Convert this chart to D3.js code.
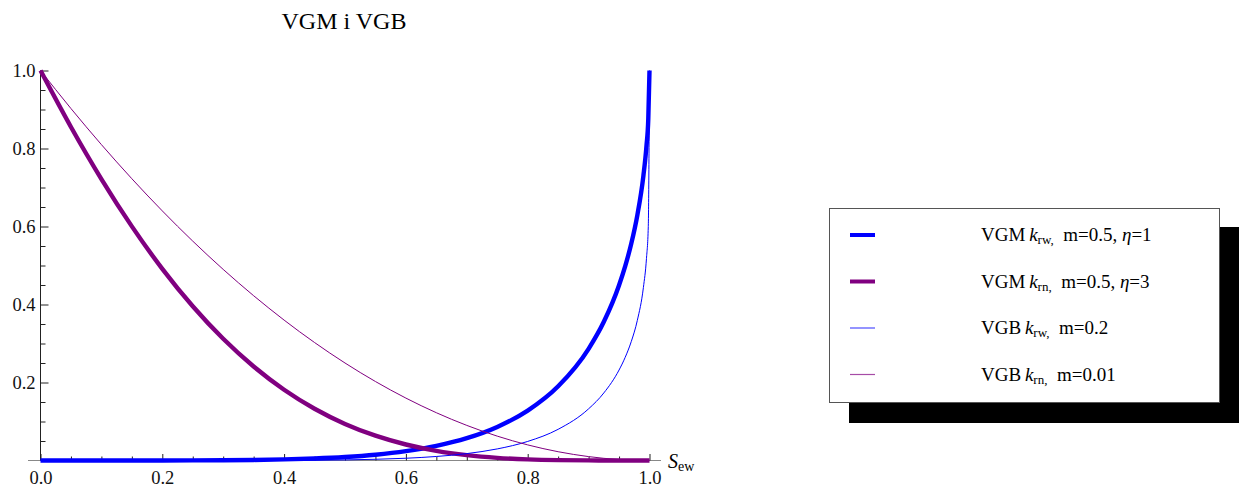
<!DOCTYPE html>
<html>
<head>
<meta charset="utf-8">
<script src="https://cdn.jsdelivr.net/npm/d3@7"></script>
<style>
  html, body { margin: 0; padding: 0; background: #fff; }
  svg { display: block; font-family: "Liberation Serif", "Times New Roman", serif; }
  text { white-space: pre; }
</style>
</head>
<body>
<div id="chart"></div>
<script>
// VGM i VGB — relative permeability curves vs effective saturation.

// Saturation samples (denser near 1 where the kr_w curves shoot up).
const SAT = [0, 0.05, 0.1, 0.15, 0.2, 0.25, 0.3, 0.35, 0.4, 0.45, 0.5, 0.55, 0.6,
  0.65, 0.7, 0.75, 0.8, 0.85, 0.9, 0.925, 0.95, 0.96, 0.97, 0.98, 0.99, 0.995, 0.998, 1];

// Values at each SAT point.
const VGM_KRW = [0, 0, 0, 0.00002, 0.0001, 0.00025, 0.00064, 0.0014, 0.0028, 0.0052,
  0.009, 0.0149, 0.024, 0.0375, 0.0572, 0.086, 0.128, 0.1903, 0.2864, 0.3556, 0.4494,
  0.4977, 0.5557, 0.6288, 0.7304, 0.8062, 0.8758, 1];
const VGM_KRN = [1, 0.8552, 0.7217, 0.6003, 0.4915, 0.3955, 0.3121, 0.241, 0.1814,
  0.1327, 0.0938, 0.0636, 0.041, 0.0248, 0.0138, 0.0068, 0.0029, 0.0009, 0.0002,
  0.0001, 0, 0, 0, 0, 0, 0, 0, 0];
const VGB_KRW = [0, 0, 0, 0, 0, 0, 0.00004, 0.00012, 0.00033, 0.00075, 0.0016, 0.0031,
  0.0058, 0.0103, 0.0177, 0.0297, 0.0489, 0.08, 0.1325, 0.1732, 0.232, 0.2642,
  0.3047, 0.3592, 0.4439, 0.5176, 0.5998, 1];
const VGB_KRN = [1, 0.9025, 0.81, 0.7225, 0.64, 0.5625, 0.49, 0.4225, 0.36, 0.3025,
  0.25, 0.2025, 0.16, 0.1225, 0.09, 0.0625, 0.04, 0.0225, 0.01, 0.0056, 0.0025,
  0.0016, 0.0009, 0.0004, 0.0001, 0, 0, 0];

const X_TICKS = [0, 0.2, 0.4, 0.6, 0.8, 1.0];
const Y_TICKS = [0.2, 0.4, 0.6, 0.8, 1.0];
const MINOR_TICKS = [0.05, 0.1, 0.15, 0.25, 0.3, 0.35, 0.45, 0.5, 0.55, 0.65, 0.7,
  0.75, 0.85, 0.9, 0.95];

const SERIES = [
  { name: "VGM", sub: "rw,", rest: "m=0.5, ", eta: "=1", values: VGM_KRW, color: "#0000ff", width: 4.4 },
  { name: "VGM", sub: "rn,", rest: "m=0.5, ", eta: "=3", values: VGM_KRN, color: "#800080", width: 4.4 },
  { name: "VGB", sub: "rw,", rest: "m=0.2", eta: null, values: VGB_KRW, color: "#0000ff", width: 1 },
  { name: "VGB", sub: "rn,", rest: "m=0.01", eta: null, values: VGB_KRN, color: "#800080", width: 1 },
];

const width = 1245;
const height = 491;

const x = d3.scaleLinear().domain([0, 1]).range([40.5, 649.5]);
const y = d3.scaleLinear().domain([0, 1]).range([460.5, 70.5]);

const svg = d3.select("#chart").append("svg")
  .attr("width", width)
  .attr("height", height);

// ---- title ----
svg.append("text")
  .attr("x", 344).attr("y", 29)
  .attr("text-anchor", "middle")
  .style("font-size", "24px")
  .text("VGM i VGB");

// ---- axes ----
svg.append("line")
  .attr("x1", 28).attr("x2", 661)
  .attr("y1", y(0)).attr("y2", y(0))
  .attr("stroke", "#888").attr("stroke-width", 1.2);
svg.append("line")
  .attr("x1", x(0)).attr("x2", x(0))
  .attr("y1", y(0)).attr("y2", y(1))
  .attr("stroke", "#222").attr("stroke-width", 1);

const xAxis = svg.append("g")
  .attr("transform", `translate(0,${y(0)})`)
  .call(d3.axisBottom(x).tickValues(X_TICKS).tickFormat(d3.format(".1f"))
    .tickSizeInner(-6.5).tickSizeOuter(0).tickPadding(17));
const xMinor = svg.append("g")
  .attr("transform", `translate(0,${y(0)})`)
  .call(d3.axisBottom(x).tickValues(MINOR_TICKS).tickFormat("")
    .tickSizeInner(-4).tickSizeOuter(0));

const yAxis = svg.append("g")
  .attr("transform", `translate(${x(0)},0)`)
  .call(d3.axisLeft(y).tickValues(Y_TICKS).tickFormat(d3.format(".1f"))
    .tickSizeInner(-8).tickSizeOuter(0).tickPadding(5));
const yMinor = svg.append("g")
  .attr("transform", `translate(${x(0)},0)`)
  .call(d3.axisLeft(y).tickValues(MINOR_TICKS).tickFormat("")
    .tickSizeInner(-5).tickSizeOuter(0));

for (const g of [xAxis, xMinor, yAxis, yMinor]) {
  g.select(".domain").remove();
  g.selectAll(".tick line").attr("stroke", "#222");
  g.selectAll(".tick text")
    .attr("fill", "#111")
    .style("font-family", "Liberation Serif, serif")
    .style("font-size", "18.5px");
}
xAxis.selectAll(".tick text").attr("dy", "0.35em");

// axis label S_ew
const xLabel = svg.append("text")
  .attr("x", 668).attr("y", 468)
  .style("font-size", "20px");
xLabel.append("tspan").style("font-style", "italic").text("S");
xLabel.append("tspan").attr("dy", 3).style("font-size", "14px").text("ew");

// ---- curves ----
const line = d3.line()
  .x((d) => x(d[0]))
  .y((d) => y(d[1]))
  .curve(d3.curveMonotoneX);

svg.append("g").selectAll("path")
  .data(SERIES)
  .join("path")
  .attr("d", (s) => line(SAT.map((v, i) => [v, s.values[i]])))
  .attr("fill", "none")
  .attr("stroke", (s) => s.color)
  .attr("stroke-width", (s) => s.width)
  .attr("stroke-linejoin", "round");

// ---- legend ----
const legend = svg.append("g");
legend.append("rect")
  .attr("x", 849).attr("y", 227).attr("width", 390).attr("height", 196)
  .attr("fill", "#000");
legend.append("rect")
  .attr("x", 829.5).attr("y", 208.5).attr("width", 390).attr("height", 194)
  .attr("fill", "#fff").attr("stroke", "#555").attr("stroke-width", 1);

const rowY = [235, 281.5, 328, 374.5];
SERIES.forEach((s, i) => {
  legend.append("line")
    .attr("x1", 850).attr("x2", 875)
    .attr("y1", rowY[i]).attr("y2", rowY[i])
    .attr("stroke", s.color)
    .attr("stroke-opacity", s.width > 2 ? 1 : 0.7)
    .attr("stroke-width", s.width > 2 ? 4 : 1.2);
  const t = legend.append("text")
    .attr("x", 981).attr("y", rowY[i] + 6)
    .style("font-size", "19px");
  t.append("tspan").text(s.name + "\u2009");
  t.append("tspan").style("font-style", "italic").text("k");
  t.append("tspan").attr("dy", 3).style("font-size", "13px").text(s.sub);
  t.append("tspan").attr("dy", -3).text("\u00a0\u00a0" + s.rest);
  if (s.eta) {
    t.append("tspan").style("font-style", "italic").text("η");
    t.append("tspan").text(s.eta);
  }
});
</script>
</body>
</html>
